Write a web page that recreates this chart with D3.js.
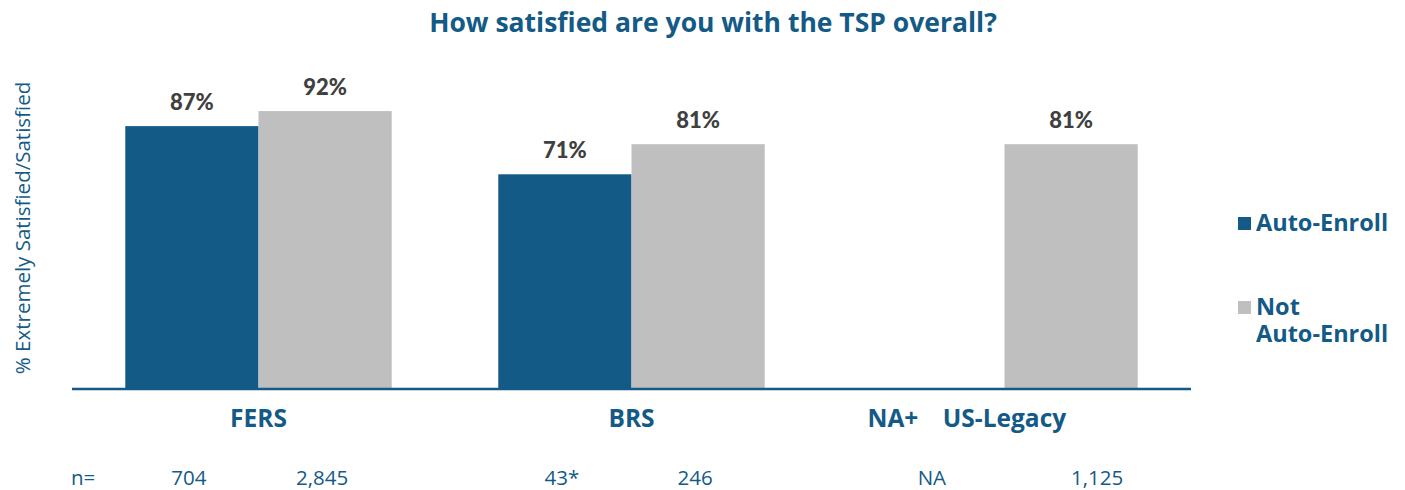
<!DOCTYPE html>
<html>
<head>
<meta charset="utf-8">
<script src="https://cdn.jsdelivr.net/npm/d3@7"></script>
<style>
  body { margin: 0; background: #fff; }
  text { font-family: "Open Sans", "Lato", sans-serif; }
</style>
</head>
<body>
<script>
const w = 1405
const h = 490

// data
const groups = ["FERS", "BRS", "US-Legacy"]
const series = ["Auto-Enroll", "Not Auto-Enroll"]
const autoEnroll = [87, 71, null]
const notAutoEnroll = [92, 81, 81]
const nAuto = ["704", "43*", "NA"]
const nNotAuto = ["2,845", "246", "1,125"]

const blue = "#135a86"
const grey = "#bfbfbf"
const textBlue = "#135a86"

let svg = d3.select("body").append("svg").attr("width", w).attr("height", h)

let x0 = d3.scaleBand().domain(groups).range([72, 1191]).paddingInner(0).paddingOuter(0)
let x1 = d3.scaleBand().domain(series).range([0, x0.bandwidth()]).paddingInner(0).paddingOuter(0.4)
let y = d3.scaleLinear().domain([0, 100]).range([388, 87])

// title
svg.append("text")
    .attr("x", 713).attr("y", 32)
    .attr("text-anchor", "middle")
    .attr("font-size", 26.5).attr("font-weight", "bold")
    .attr("fill", textBlue)
    .text("How satisfied are you with the TSP overall?")

// y label
svg.append("text")
    .attr("transform", "translate(30,228) rotate(-90)")
    .attr("text-anchor", "middle")
    .attr("font-size", 20.5)
    .attr("fill", textBlue)
    .text("% Extremely Satisfied/Satisfied")

let rows = groups.map((g, i) => [
    { g: g, s: series[0], v: autoEnroll[i], n: nAuto[i] },
    { g: g, s: series[1], v: notAutoEnroll[i], n: nNotAuto[i] }
])
let flat = rows.flat()

svg.selectAll("rect.bar")
    .data(flat.filter(d => d.v != null))
    .enter()
    .append("rect")
    .attr("class", "bar")
    .attr("x", d => x0(d.g) + x1(d.s))
    .attr("y", d => y(d.v))
    .attr("width", x1.bandwidth())
    .attr("height", d => y(0) - y(d.v))
    .attr("fill", d => d.s == series[0] ? blue : grey)

svg.selectAll("text.val")
    .data(flat.filter(d => d.v != null))
    .enter()
    .append("text")
    .attr("class", "val")
    .attr("x", d => x0(d.g) + x1(d.s) + x1.bandwidth() / 2)
    .attr("y", d => y(d.v) - 16)
    .attr("text-anchor", "middle")
    .style("font-family", "Lato, sans-serif")
    .attr("font-size", 22).attr("font-weight", "900")
    .attr("fill", "#404040")
    .text(d => d.v + "%")

// axis line
svg.append("line")
    .attr("x1", 72).attr("x2", 1191)
    .attr("y1", y(0) + 1).attr("y2", y(0) + 1)
    .attr("stroke", blue).attr("stroke-width", 2.5)

// category labels
svg.selectAll("text.cat")
    .data(groups)
    .enter()
    .append("text")
    .attr("class", "cat")
    .attr("x", d => x0(d) + x0.bandwidth() / 2)
    .attr("y", 427)
    .attr("text-anchor", "middle")
    .attr("font-size", 24.5).attr("font-weight", "bold")
    .attr("fill", textBlue)
    .text(d => d)

// NA+ for missing bar
svg.append("text")
    .attr("x", x0("US-Legacy") + x1(series[0]) + x1.bandwidth() / 2 - 45)
    .attr("y", 427)
    .attr("text-anchor", "middle")
    .attr("font-size", 24.5).attr("font-weight", "bold")
    .attr("fill", textBlue)
    .text("NA+")

// n row
svg.append("text")
    .attr("x", 71).attr("y", 485)
    .attr("font-size", 20.5)
    .attr("fill", textBlue)
    .text("n=")

svg.selectAll("text.n")
    .data(flat)
    .enter()
    .append("text")
    .attr("class", "n")
    .attr("x", d => x0(d.g) + x1(d.s) + x1.bandwidth() / 2 + (d.g == "US-Legacy" ? (d.s == series[0] ? -6 : 26) : -3))
    .attr("y", 485)
    .attr("text-anchor", "middle")
    .attr("font-size", 20.5)
    .attr("fill", textBlue)
    .text(d => d.n)

// legend
let legend = svg.append("g")
legend.append("rect").attr("x", 1238).attr("y", 217).attr("width", 13).attr("height", 13).attr("fill", blue)
legend.append("text").attr("x", 1256).attr("y", 231)
    .attr("font-size", 23.5).attr("font-weight", "bold").attr("fill", textBlue).text("Auto-Enroll")
legend.append("rect").attr("x", 1238).attr("y", 301).attr("width", 13).attr("height", 13).attr("fill", grey)
let lt = legend.append("text").attr("x", 1256).attr("y", 315)
    .attr("font-size", 23.5).attr("font-weight", "bold").attr("fill", textBlue)
lt.append("tspan").attr("x", 1256).text("Not")
lt.append("tspan").attr("x", 1256).attr("dy", 27).text("Auto-Enroll")
</script>
</body>
</html>
